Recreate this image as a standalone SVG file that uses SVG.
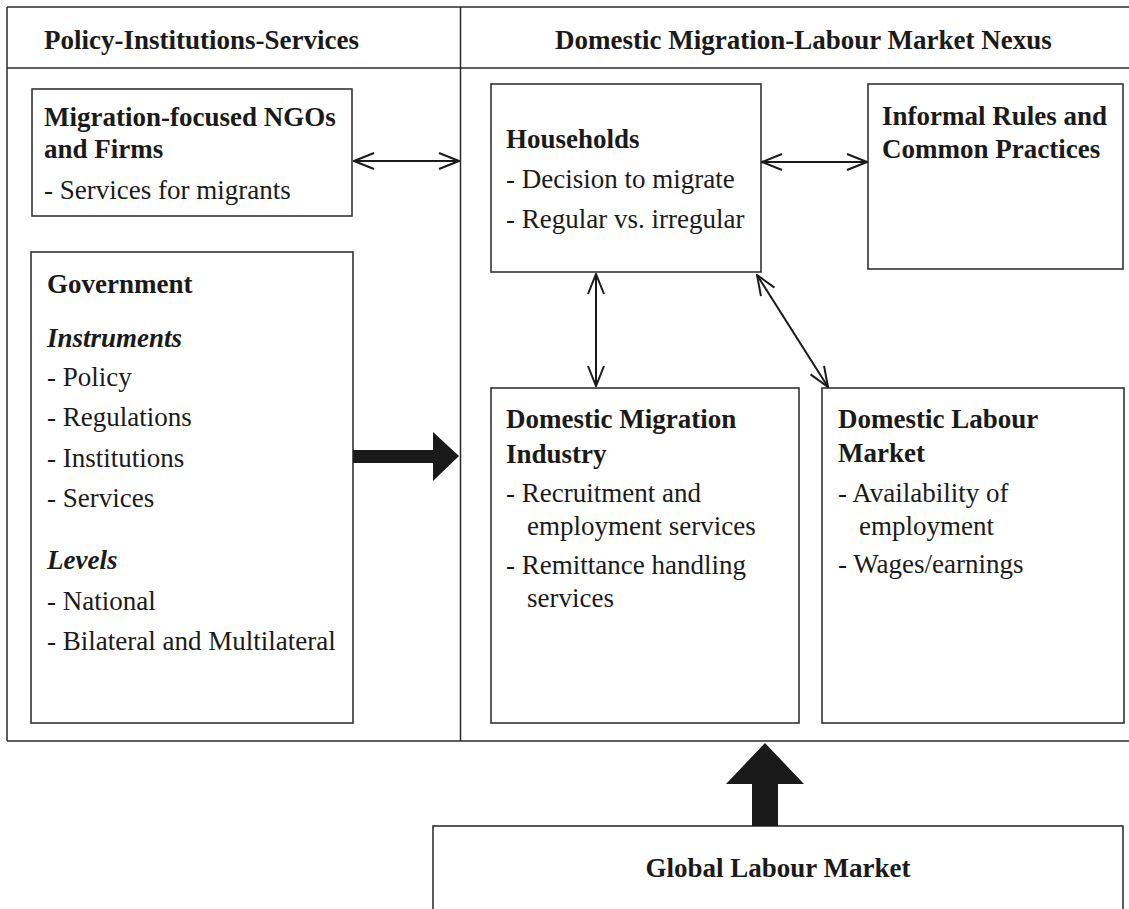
<svg xmlns="http://www.w3.org/2000/svg" width="1129" height="909" viewBox="0 0 1129 909">
<style>
  .frame { stroke: #2a2a2a; stroke-width: 1.5; fill: none; }
  .box { stroke: #333; stroke-width: 1.6; fill: #fff; }
  .t { font-family: "Liberation Serif", "Times New Roman", serif; font-size: 27px; fill: #1a1a1a; }
  .b { font-weight: bold; }
  .bi { font-weight: bold; font-style: italic; }
  .conn { stroke: #1a1a1a; stroke-width: 2; fill: none; }
  .thick { fill: #1a1a1a; stroke: none; }
</style>
<defs>
  <marker id="chev" viewBox="0 0 22 18" refX="21" refY="9" markerWidth="22" markerHeight="18" markerUnits="userSpaceOnUse" orient="auto-start-reverse">
    <path d="M1,1 L21,9 L1,17" fill="none" stroke="#1a1a1a" stroke-width="2"/>
  </marker>
</defs>
<rect x="0" y="0" width="1129" height="909" fill="#fff"/>

<g id="frame">
  <line class="frame" x1="7" y1="7" x2="1129" y2="7"/>
  <line class="frame" x1="7" y1="68" x2="1129" y2="68"/>
  <line class="frame" x1="7" y1="7" x2="7" y2="741"/>
  <line class="frame" x1="460.5" y1="7" x2="460.5" y2="741"/>
  <line class="frame" x1="7" y1="741" x2="1129" y2="741"/>
  <text class="t b" x="44" y="49">Policy-Institutions-Services</text>
  <text class="t b" x="555" y="49">Domestic Migration-Labour Market Nexus</text>
</g>

<g id="ngos">
  <rect class="box" x="32" y="89" width="320" height="127"/>
  <text class="t b" x="44" y="126">Migration-focused NGOs</text>
  <text class="t b" x="44" y="158">and Firms</text>
  <text class="t" x="44" y="199">- Services for migrants</text>
</g>

<g id="government">
  <rect class="box" x="31" y="252" width="322" height="471"/>
  <text class="t b" x="47" y="293">Government</text>
  <text class="t bi" x="47" y="347">Instruments</text>
  <text class="t" x="47" y="386">- Policy</text>
  <text class="t" x="47" y="426">- Regulations</text>
  <text class="t" x="47" y="467">- Institutions</text>
  <text class="t" x="47" y="507">- Services</text>
  <text class="t bi" x="47" y="569">Levels</text>
  <text class="t" x="47" y="610">- National</text>
  <text class="t" x="47" y="650">- Bilateral and Multilateral</text>
</g>

<g id="households">
  <rect class="box" x="491" y="84" width="270" height="188"/>
  <text class="t b" x="506" y="148">Households</text>
  <text class="t" x="506" y="188">- Decision to migrate</text>
  <text class="t" x="506" y="228">- Regular vs. irregular</text>
</g>

<g id="informal">
  <rect class="box" x="868" y="84" width="255" height="185"/>
  <text class="t b" x="882" y="125">Informal Rules and</text>
  <text class="t b" x="882" y="158">Common Practices</text>
</g>

<g id="industry">
  <rect class="box" x="491" y="388" width="308" height="335"/>
  <text class="t b" x="506" y="428">Domestic Migration</text>
  <text class="t b" x="506" y="463">Industry</text>
  <text class="t" x="506" y="502">- Recruitment and</text>
  <text class="t" x="527" y="535">employment services</text>
  <text class="t" x="506" y="574">- Remittance handling</text>
  <text class="t" x="527" y="607">services</text>
</g>

<g id="labour">
  <rect class="box" x="822" y="388" width="302" height="335"/>
  <text class="t b" x="838" y="428">Domestic Labour</text>
  <text class="t b" x="838" y="462">Market</text>
  <text class="t" x="838" y="502">- Availability of</text>
  <text class="t" x="859" y="535">employment</text>
  <text class="t" x="838" y="573">- Wages/earnings</text>
</g>

<g id="global">
  <rect class="box" x="433" y="826" width="690" height="100"/>
  <text class="t b" x="778" y="877" text-anchor="middle">Global Labour Market</text>
</g>

<g id="connectors">
  <line class="conn" x1="354" y1="161" x2="459" y2="161" marker-start="url(#chev)" marker-end="url(#chev)"/>
  <line class="conn" x1="762" y1="162" x2="867" y2="162" marker-start="url(#chev)" marker-end="url(#chev)"/>
  <line class="conn" x1="596" y1="274" x2="596" y2="386" marker-start="url(#chev)" marker-end="url(#chev)"/>
  <line class="conn" x1="757" y1="275" x2="828" y2="387" marker-start="url(#chev)" marker-end="url(#chev)"/>
  <polygon class="thick" points="353,450 433,450 433,432 459,456 433,481 433,463 353,463"/>
  <polygon class="thick" points="752,826 752,784 726,784 765,743 804,784 778,784 778,826"/>
</g>
</svg>
